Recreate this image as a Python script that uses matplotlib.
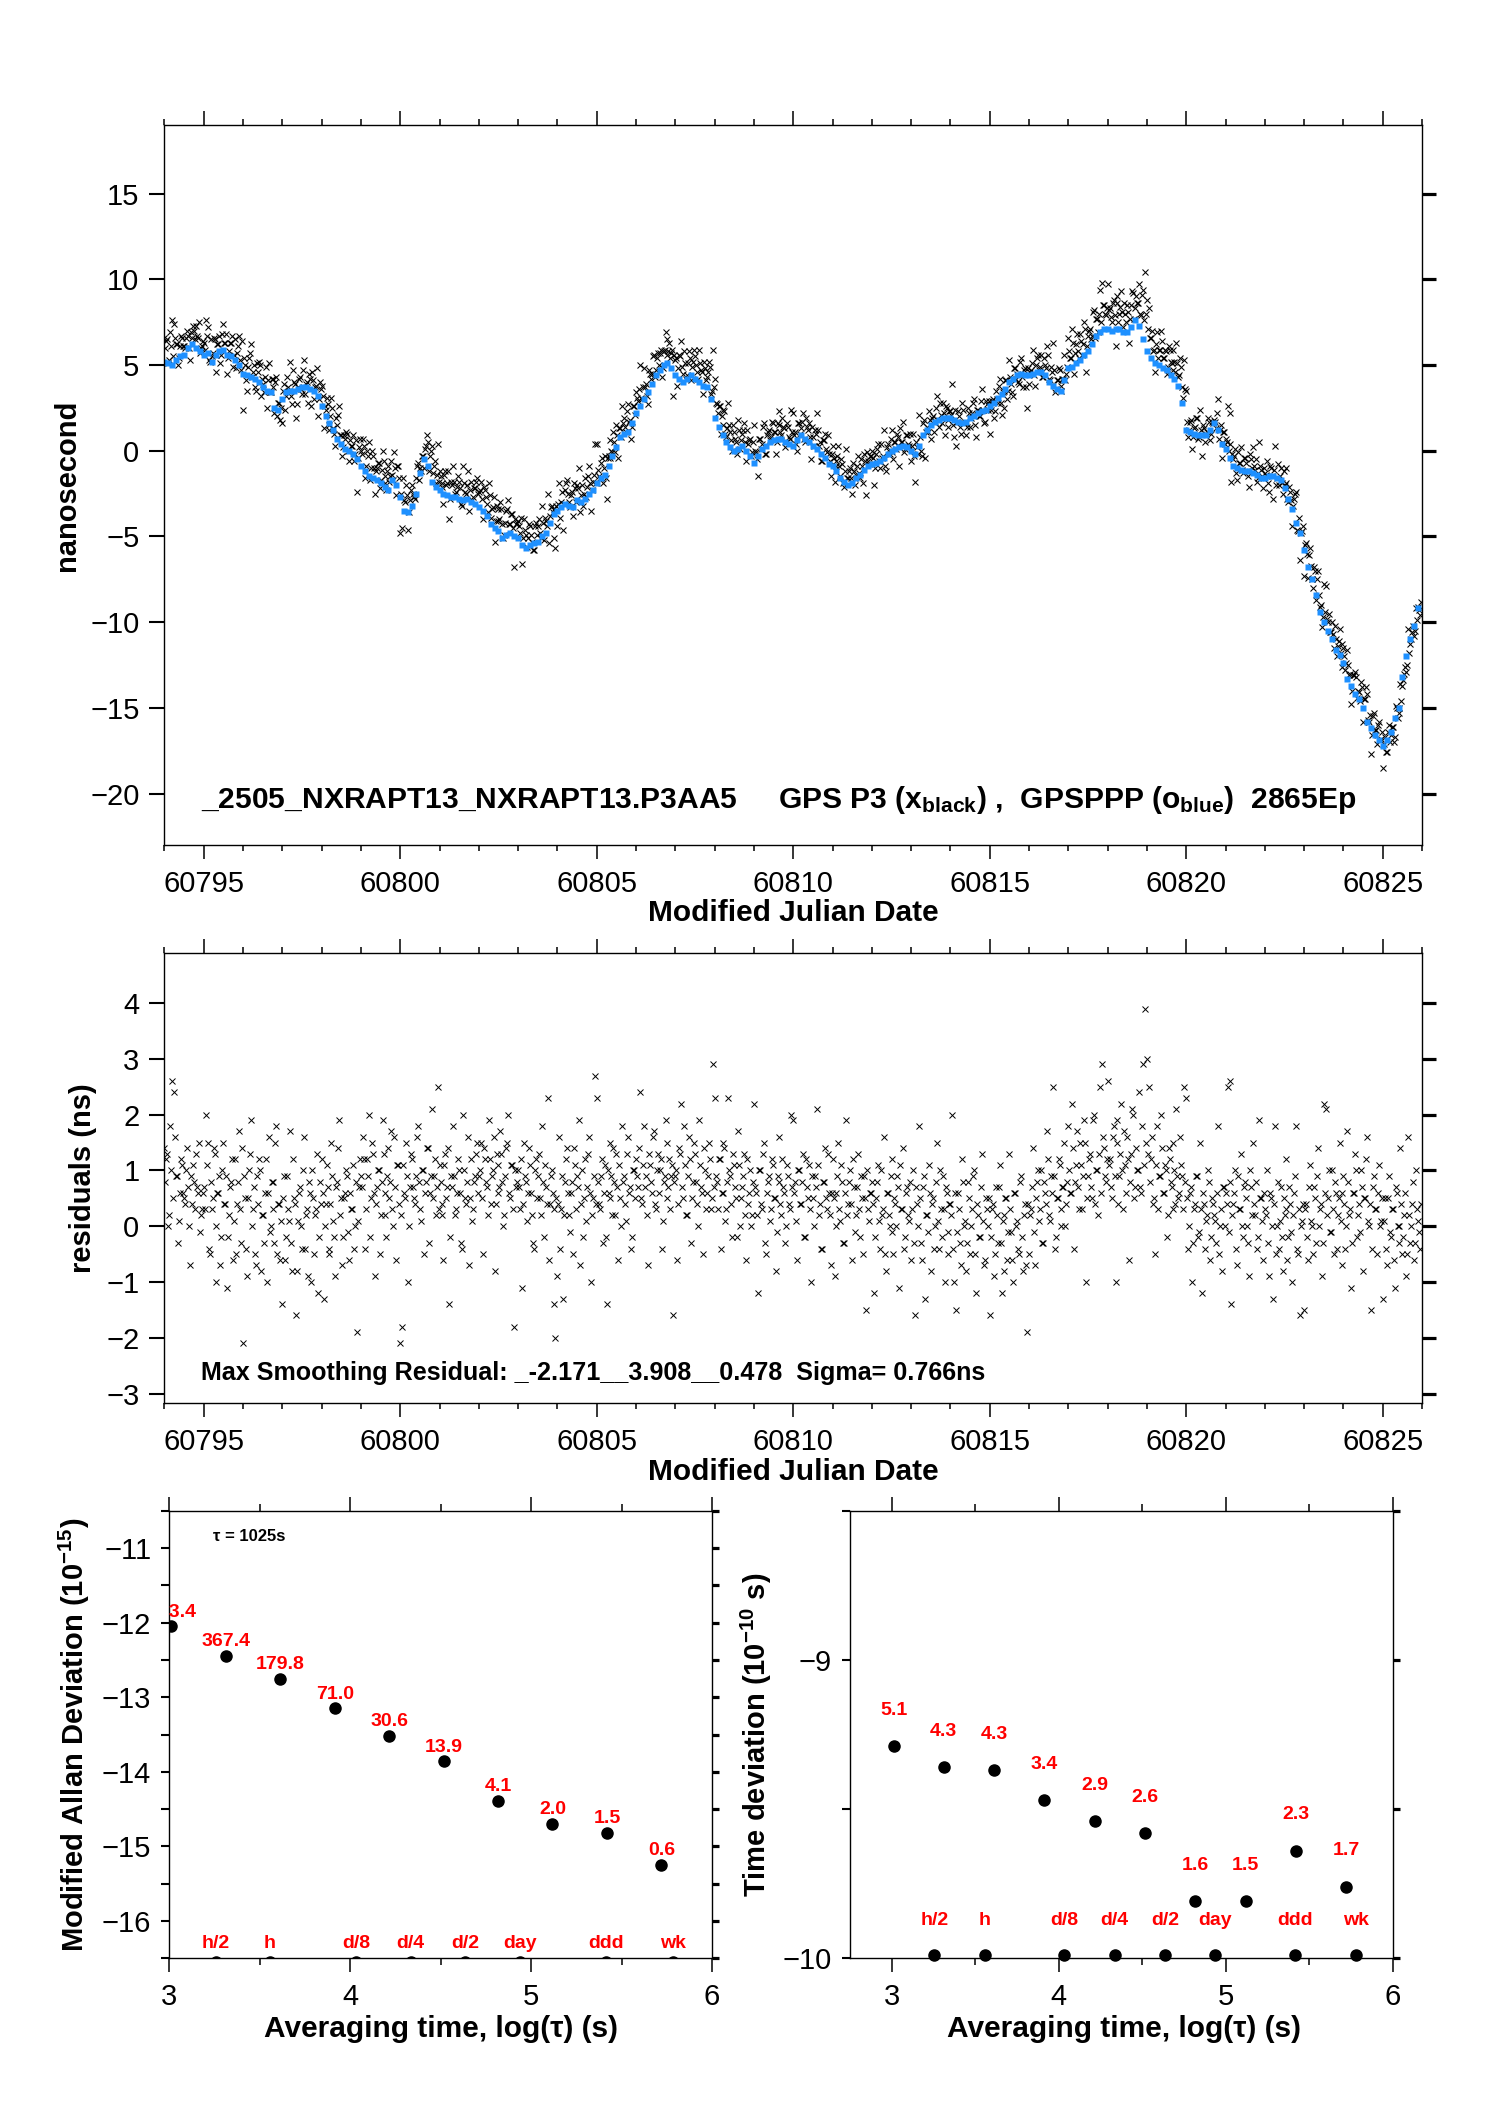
import numpy as np
import matplotlib
matplotlib.use("Agg")
import matplotlib.pyplot as plt
from matplotlib.ticker import MultipleLocator, FormatStrFormatter

plt.rcParams['font.family'] = ['Liberation Sans', 'DejaVu Sans']
plt.rcParams['mathtext.fontset'] = 'custom'
plt.rcParams['mathtext.rm'] = 'Liberation Sans'
plt.rcParams['mathtext.bf'] = 'Liberation Sans:bold'
plt.rcParams['mathtext.it'] = 'Liberation Sans:italic'

# time grid of the series (MJD)
mjd_start = 60794.0
ppp_step = 0.1
res_step = 0.05
res_offset = 0.025   # second residual set sits between the first one

# GPSPPP (blue), ns, one value every 0.1 day
ppp_ns = [
    5.2, 5.1, 5.0, 5.3, 5.5, 5.6, 6.0, 6.2, 6.0, 5.8,
    5.6, 5.7, 5.2, 5.6, 5.8, 5.9, 5.6, 5.5, 5.3, 5.0,
    4.5, 4.4, 4.3, 4.2, 4.0, 3.7, 3.5, 3.4, 2.5, 2.4,
    3.0, 3.4, 3.5, 3.5, 3.6, 3.7, 3.7, 3.6, 3.5, 3.2,
    2.6, 2.0, 1.6, 1.2, 0.7, 0.4, 0.1, 0.0, -0.2, -0.5,
    -0.9, -1.2, -1.5, -1.6, -1.7, -1.9, -2.1, -2.3, -1.7, -2.0,
    -2.7, -3.5, -3.6, -3.2, -2.5, -1.3, -0.5, -0.9, -1.8, -2.1,
    -2.3, -2.5, -2.6, -2.7, -2.7, -2.8, -2.9, -2.8, -3.0, -3.1,
    -3.3, -3.5, -3.8, -4.3, -4.5, -4.7, -5.1, -4.9, -4.8, -5.0,
    -5.1, -5.5, -5.7, -5.5, -5.4, -5.3, -5.0, -4.8, -4.2, -3.7,
    -3.5, -3.3, -3.1, -3.2, -3.3, -2.9, -3.0, -2.8, -2.5, -2.3,
    -1.9, -1.6, -1.4, -0.9, -0.3, 0.2, 0.8, 1.0, 1.1, 1.6,
    2.2, 2.6, 3.0, 3.4, 3.9, 4.4, 4.7, 5.0, 5.1, 4.8,
    4.4, 4.2, 4.0, 4.2, 4.4, 4.2, 4.0, 3.8, 3.7, 3.0,
    1.9, 1.4, 0.9, 0.5, 0.2, 0.0, 0.1, 0.3, 0.0, -0.3,
    -0.7, -0.3, 0.1, 0.3, 0.5, 0.6, 0.7, 0.7, 0.5, 0.4,
    0.3, 0.6, 0.9, 0.7, 0.5, 0.3, 0.1, -0.2, -0.4, -0.8,
    -0.9, -1.2, -1.6, -1.8, -2.0, -1.9, -1.6, -1.4, -1.1, -0.9,
    -0.8, -0.7, -0.6, -0.4, -0.2, 0.0, 0.1, 0.2, 0.3, 0.2,
    0.0, -0.2, 0.3, 0.9, 1.2, 1.5, 1.7, 1.8, 1.9, 1.9,
    1.9, 1.8, 1.7, 1.6, 1.7, 1.9, 2.0, 2.2, 2.3, 2.4,
    2.6, 2.8, 3.1, 3.3, 3.6, 4.0, 4.2, 4.4, 4.5, 4.4,
    4.4, 4.5, 4.6, 4.6, 4.4, 4.0, 3.8, 3.6, 3.5, 4.1,
    4.8, 4.9, 5.1, 5.3, 5.6, 5.8, 6.2, 6.7, 6.9, 7.1,
    7.1, 7.0, 7.1, 7.1, 6.9, 6.9, 7.2, 7.6, 7.3, 6.5,
    5.8, 5.4, 5.1, 5.0, 4.8, 4.7, 4.4, 4.2, 3.8, 2.8,
    1.2, 1.1, 1.0, 0.9, 0.9, 0.9, 1.2, 1.6, 1.2, 0.4,
    0.1, -0.4, -0.9, -1.0, -1.1, -1.2, -1.2, -1.3, -1.4, -1.6,
    -1.6, -1.5, -1.5, -1.6, -1.7, -2.2, -2.8, -3.4, -4.2, -4.8,
    -5.8, -6.8, -7.5, -8.4, -9.4, -10.0, -10.5, -11.0, -11.6, -11.9,
    -12.4, -13.3, -13.7, -14.2, -14.5, -15.0, -15.8, -16.2, -16.6, -16.9,
    -17.2, -16.9, -16.4, -15.6, -15.0, -13.2, -12.0, -11.0, -10.2, -9.2,
]

# P3 minus smoothing, ns, one value every 0.05 day
residual_ns = [
    1.4, 1.2, 0.0, 1.8, 2.6, 2.4, 0.9, -0.3, 0.6, 1.1,
    0.5, 1.0, 0.7, -0.7, 0.4, 0.8, 1.3, 0.6, -0.1, 0.3,
    0.7, 2.0, 1.5, -0.5, 0.3, 1.4, -1.0, 0.6, 0.9, -0.2,
    1.5, 0.4, -1.1, 0.2, 0.8, -0.6, 1.2, 0.4, 1.7, -0.3,
    -2.1, 0.5, -0.9, 1.0, 1.9, 0.3, -0.5, 0.9, 1.2, -0.8,
    0.2, 0.6, -1.0, 1.6, 0.0, 0.8, -0.3, 1.8, 0.4, -0.6,
    -1.4, 0.9, -0.2, 0.3, 1.7, -0.8, 0.5, -1.6, 0.1, 0.7,
    -0.4, 1.6, 0.2, -0.9, 0.6, 1.0, -0.5, 0.3, -1.2, 0.8,
    1.2, -1.3, 0.4, 0.7, -0.4, 1.5, 0.1, -0.9, 0.8, 1.9,
    0.5, -0.2, 0.6, 0.9, -0.6, 0.3, 1.1, 0.0, -1.9, 0.7,
    0.9, 1.6, -0.4, 1.2, 2.0, 0.5, 1.3, -0.9, 0.7, 1.0,
    0.2, 1.9, 0.6, -0.2, 1.4, 0.8, 0.3, 1.6, -0.6, 1.1,
    -2.1, -1.8, 0.6, 1.5, -1.0, 0.7, 1.2, 0.5, 0.9, 1.8,
    0.3, 1.0, -0.5, 0.8, 1.4, 0.6, 2.1, 0.9, 0.2, 2.5,
    1.1, 0.4, -0.6, 1.3, 0.7, -1.4, 0.9, 1.8, 0.2, 0.6,
    1.0, -0.3, 2.0, 0.5, 0.8, -0.7, 1.2, 0.3, 0.9, 1.5,
    0.9, 1.5, -0.5, 1.2, 0.7, 1.9, 0.4, 1.0, -0.8, 1.3,
    0.6, 1.7, 0.8, 0.2, 1.4, 2.0, 0.5, 1.1, -1.8, 0.7,
    1.0, 0.3, -1.1, 1.5, 0.8, 0.6, 1.1, 0.2, -0.4, 1.2,
    0.9, 0.5, 1.8, -0.2, 0.7, 2.3, 0.4, 1.0, -1.4, -2.0,
    -0.9, 1.6, 0.3, -1.3, 0.8, 1.4, 0.2, 0.6, -0.5, 1.1,
    0.9, 1.9, 0.4, -0.2, 1.2, 0.7, 1.6, -1.0, 0.5, 2.7,
    2.3, 0.4, 0.9, -0.3, 1.1, -1.4, 0.6, 1.5, 0.2, 0.8,
    1.3, -0.6, 0.5, 1.8, 0.9, 0.1, 1.6, 0.7, -0.2, 1.0,
    1.2, 0.7, 2.4, 0.4, 1.8, 0.9, -0.7, 1.1, 0.6, 1.7,
    0.3, 1.3, 1.0, -0.4, 0.8, 1.9, 0.5, 1.2, 0.9, -1.6,
    0.9, -0.6, 1.4, 2.2, 0.5, 1.1, 0.2, 1.6, -0.3, 0.8,
    1.3, 0.4, 1.9, 0.7, -0.5, 1.0, 0.6, 1.5, 0.3, 2.9,
    2.3, 0.8, 1.2, -0.4, 0.6, 1.4, 0.3, 2.3, 0.9, -0.2,
    1.1, 0.5, 1.7, 0.0, 0.7, 1.3, -0.6, 0.4, 1.0, 0.2,
    2.2, 0.6, -1.2, 1.0, 0.3, 1.5, -0.5, 0.8, 0.1, 1.2,
    0.5, -0.8, 0.9, 1.6, 0.2, 0.7, -0.3, 1.1, 0.4, 2.0,
    1.9, 0.8, -0.6, 1.0, 0.4, 1.3, -0.2, 0.7, 1.1, -1.0,
    0.5, 0.9, 2.1, 0.2, -0.4, 0.8, 1.4, 0.3, 0.6, -0.7,
    1.2, -0.9, 0.6, 1.5, 0.1, 0.8, -0.3, 1.9, 0.4, 1.0,
    -0.6, 0.7, 0.2, 1.3, -0.2, 0.5, 0.9, -1.5, 0.3, 0.6,
    0.8, -1.2, 0.5, 1.1, -0.4, 0.2, 1.6, -0.8, 0.6, 0.0,
    1.2, -0.5, 0.4, 0.9, -1.1, 0.3, 1.4, -0.2, 0.7, 0.1,
    -0.6, 1.0, -1.6, 0.4, 1.8, -0.3, 0.7, -1.3, 0.2, 1.1,
    -0.8, 0.5, 0.0, 1.5, -0.4, 0.3, 0.9, -1.0, 0.6, -0.1,
    0.4, 2.0, -1.0, -1.5, 0.6, -0.3, 1.2, 0.0, -0.8, 0.8,
    -0.5, 0.3, 1.0, -1.2, 0.2, -0.2, 1.3, -0.7, 0.5, 0.0,
    -1.6, 0.3, -0.9, 0.7, -0.3, 1.1, -1.2, 0.2, 0.5, -0.6,
    1.3, -0.1, -1.0, 0.6, 0.1, -0.5, 0.9, -0.8, 0.4, -1.9,
    -0.5, 0.3, 1.4, -0.7, 0.8, 0.1, 1.0, -0.3, 0.6, 1.7,
    0.2, 0.9, 2.5, -0.4, 0.5, 1.2, 0.0, 0.7, 1.5, 0.4,
    1.8, 0.6, 2.2, -0.4, 1.1, 0.7, 1.5, 0.3, 1.9, -1.0,
    0.9, 1.3, 0.5, 2.0, 1.0, 0.2, 2.5, 2.9, 1.4, 0.8,
    2.6, 1.2, 0.5, 1.8, -1.0, 1.5, 0.9, 2.2, 0.3, 1.1,
    1.6, -0.6, 1.3, 2.0, 0.7, 1.0, 2.4, 0.6, 2.9, 3.9,
    3.0, 2.5, 1.2, 0.4, -0.5, 1.8, 0.9, 2.0, 0.6, 1.1,
    -0.2, 1.4, 0.8, 0.3, 1.0, 2.1, 0.5, 1.6, 0.9, 2.5,
    2.3, -0.4, 0.6, -1.0, 0.3, 0.9, -0.2, 1.5, -1.2, 0.4,
    0.1, 1.0, -0.6, 0.5, 0.2, -0.3, 1.8, 0.0, -0.8, 0.7,
    0.6, 2.5, 2.6, -1.4, 0.4, 1.0, -0.7, 0.3, 1.3, -0.2,
    0.8, 0.0, -0.9, 0.7, 1.5, 0.2, -0.4, 1.9, 0.5, -0.6,
    0.3, 1.0, -0.9, 0.5, -1.3, 1.8, 0.0, -0.4, 0.7, -0.8,
    0.2, 1.2, -0.2, 0.4, -1.0, 0.6, 1.8, -0.5, -1.6, 0.1,
    -1.5, 0.4, -0.6, 1.1, 0.0, 0.7, -0.3, 1.4, 0.3, -0.9,
    2.2, 2.1, 0.5, -0.1, 1.0, -0.5, 0.6, 0.2, 1.5, -0.7,
    0.9, -0.4, 1.7, 0.2, -1.1, 0.6, 1.3, -0.2, 0.4, 1.0,
    -0.8, 0.5, 1.6, 0.0, -1.5, 0.7, 0.3, -0.5, 1.1, 0.1,
    -1.3, 0.5, -0.7, 0.9, -0.2, 0.3, -1.1, 0.6, 0.0, 1.4,
    -0.5, 0.2, -0.9, 1.6, -0.3, 0.4, -0.6, 1.0, 0.1, -0.4,
]

# P3 minus smoothing, ns, the epochs in between (0.05 day apart, shifted 0.025)
residual_mid_ns = [
    0.8, 1.3, 0.2, 1.0, 0.5, 1.6, 0.9, 0.1, 1.2, 0.6,
    0.4, 1.4, 0.0, 0.9, 1.1, 0.3, 0.7, 1.5, 0.2, 0.6,
    0.3, 1.1, -0.4, 0.8, 0.5, 1.3, 0.0, 0.6, -0.7, 1.0,
    0.4, 0.9, -0.2, 0.7, 1.2, 0.1, -0.5, 0.8, 0.3, 1.4,
    0.9, -0.4, 0.5, 1.3, 0.0, 0.7, -0.7, 0.4, 1.0, 0.2,
    -0.3, 1.2, 0.6, -0.1, 0.8, 0.3, 1.5, -0.5, 0.4, 0.1,
    0.5, -0.6, 0.9, 0.1, -0.3, 1.2, 0.4, -0.8, 0.6, 0.0,
    1.0, -0.4, 0.3, 0.8, -1.0, 0.5, 0.2, 1.3, -0.2, 0.4,
    0.6, 0.0, 1.1, -0.5, 0.4, 0.9, -0.2, 0.7, 1.4, 0.2,
    -0.7, 0.5, 1.0, -0.1, 0.6, 0.3, -0.4, 0.8, 0.1, 1.2,
    0.7, 1.2, 0.3, 0.9, -0.2, 1.5, 0.6, 0.4, 1.0, -0.5,
    0.8, 1.3, 0.2, 0.9, 0.5, 1.7, 0.0, 0.7, 1.1, 0.4,
    0.2, 1.1, 0.5, 0.9, 0.0, 1.3, 0.7, 0.4, 1.6, 0.8,
    0.1, 1.0, 0.6, 1.4, -0.3, 0.9, 0.5, 1.2, 0.7, 0.3,
    0.8, 0.2, 1.1, 0.5, 1.4, -0.2, 0.7, 0.9, 0.3, 1.2,
    0.6, -0.4, 1.0, 0.4, 1.6, 0.5, 0.1, 0.8, 1.3, 0.6,
    1.0, 0.5, 1.4, 0.8, 0.2, 1.2, 0.9, 1.6, 0.4, 1.1,
    0.7, 1.3, 0.0, 0.9, 1.5, 0.6, 1.1, 0.3, 1.0, 0.8,
    0.7, 1.2, 0.4, 0.9, 0.1, 1.4, 0.6, -0.3, 1.0, 0.5,
    1.3, 0.2, 0.8, 1.1, 0.4, -0.6, 0.9, 0.6, 0.3, 0.5,
    0.4, -0.4, 0.9, 0.2, 1.2, 0.6, -0.1, 0.8, 1.4, 0.3,
    0.7, -0.7, 1.0, 0.5, 0.1, 1.3, 0.6, 0.2, 0.9, 0.4,
    0.8, 0.3, 1.2, 0.6, -0.2, 1.0, 0.5, 0.9, 1.4, 0.2,
    0.7, 1.1, 0.0, 0.8, 0.4, 1.3, 0.6, -0.4, 1.0, 0.5,
    0.9, 1.4, 0.5, 1.1, 0.7, 0.2, 1.3, 0.8, 1.6, 0.4,
    1.0, 0.6, 1.2, 0.1, 0.9, 1.5, 0.7, 0.3, 1.1, 0.8,
    1.0, 0.4, 1.3, 0.7, 1.8, 0.2, 0.9, 1.2, 0.5, 1.5,
    0.8, 0.0, 1.1, 0.6, 1.4, 0.3, 0.9, 1.2, 0.5, 0.7,
    0.9, 0.3, 1.2, 0.6, 1.5, 0.1, 0.8, 1.0, 0.4, 1.3,
    0.7, -0.2, 1.1, 0.5, 0.9, 0.2, 1.2, 0.6, 0.0, 0.8,
    0.7, 0.2, 1.0, 0.4, 1.3, -0.3, 0.6, 0.9, 0.3, 1.1,
    0.5, -0.1, 0.8, 0.4, 1.2, 0.6, 0.0, 0.9, 0.3, 0.7,
    0.6, 0.1, 1.0, 0.4, 0.8, -0.2, 1.2, 0.5, 0.3, 0.9,
    0.0, 0.7, 1.1, 0.4, -0.4, 0.8, 0.5, 1.3, 0.2, 0.6,
    0.5, 0.0, 0.9, 0.3, 1.1, -0.3, 0.6, 0.2, 0.8, 0.4,
    1.2, -0.1, 0.7, 0.3, 0.9, -0.5, 0.5, 1.0, 0.1, 0.6,
    0.4, -0.2, 0.8, 0.1, 1.0, 0.3, -0.5, 0.6, 0.2, 0.9,
    -0.1, 0.5, 0.0, 0.7, 1.1, 0.3, -0.4, 0.6, 0.2, 0.8,
    0.3, -0.3, 0.7, 0.0, 0.5, -0.6, 0.9, 0.2, -0.1, 0.6,
    0.4, -0.4, 0.8, 0.1, 1.0, -0.2, 0.3, 0.7, -0.5, 0.4,
    0.2, -0.4, 0.6, -0.1, 0.3, -0.7, 0.8, 0.1, -0.3, 0.5,
    0.0, 0.9, -0.5, 0.4, -0.2, 0.7, 0.1, -0.6, 0.3, 0.5,
    -0.2, 0.4, -0.5, 0.2, 0.7, -0.3, 0.1, -0.8, 0.5, -0.1,
    0.3, -0.6, 0.6, 0.0, -0.4, 0.8, -0.2, 0.2, -0.7, 0.4,
    0.2, 0.7, -0.1, 0.5, 1.0, 0.3, -0.3, 0.8, 0.4, 1.2,
    0.1, 0.6, 0.9, -0.2, 0.5, 1.1, 0.3, 0.7, 0.0, 0.8,
    1.0, 0.6, 1.4, 0.8, 1.7, 0.3, 1.1, 0.9, 1.5, 0.5,
    1.2, 0.7, 1.9, 0.4, 1.0, 1.3, 0.6, 1.6, 0.9, 1.2,
    1.1, 0.7, 1.6, 0.9, 1.9, 0.4, 1.3, 1.0, 1.7, 0.6,
    1.2, 0.8, 2.1, 0.5, 1.4, 1.0, 0.7, 1.8, 1.1, 1.5,
    1.3, 0.8, 1.6, 0.5, 1.1, 0.3, 0.9, 1.4, 0.6, 1.0,
    0.2, 1.2, 0.7, 1.5, 0.4, 0.9, 0.6, 1.1, 0.3, 0.8,
    0.5, 0.0, 0.7, -0.3, 0.4, 0.9, -0.1, 0.3, 0.6, -0.4,
    0.2, 0.8, -0.2, 0.4, 0.1, 0.6, -0.5, 0.3, 0.7, 0.0,
    0.4, -0.1, 0.8, 0.2, 0.6, -0.4, 0.9, 0.3, 0.0, 0.7,
    0.5, -0.3, 1.0, 0.2, 0.4, 0.8, -0.2, 0.5, 0.1, 0.6,
    0.2, -0.3, 0.6, 0.0, 0.4, -0.5, 0.8, 0.1, -0.2, 0.5,
    0.3, -0.6, 0.7, -0.1, 0.2, 0.9, -0.4, 0.3, 0.0, 0.4,
    0.3, -0.2, 0.7, 0.1, -0.5, 0.5, 0.9, 0.0, 0.4, -0.3,
    0.6, 0.2, 1.0, -0.1, 0.3, 0.8, -0.4, 0.5, 0.1, 0.6,
    0.4, 0.0, 0.8, 0.3, -0.3, 0.6, 1.0, 0.2, -0.1, 0.7,
    0.5, 1.2, 0.1, 0.4, -0.4, 0.9, 0.3, 0.6, 0.0, 0.5,
    0.1, -0.4, 0.5, -0.1, 0.3, -0.6, 0.7, 0.0, -0.3, 0.4,
    -0.2, 0.6, -0.5, 0.2, 0.0, 0.8, -0.3, 0.3, -0.1, 0.4,
]

# stability analysis, log10 of averaging time
tau_log = [3.011, 3.312, 3.613, 3.914, 4.215, 4.516, 4.817, 5.118, 5.419, 5.720]
mdev_log = [-12.05, -12.44, -12.75, -13.15, -13.52, -13.86, -14.39, -14.70, -14.82, -15.25]
mdev_text = ["753.4", "367.4", "179.8", "71.0", "30.6", "13.9", "4.1", "2.0", "1.5", "0.6"]
tdev_log = [-9.29, -9.36, -9.37, -9.47, -9.54, -9.58, -9.81, -9.81, -9.64, -9.76]
tdev_text = ["5.1", "4.3", "4.3", "3.4", "2.9", "2.6", "1.6", "1.5", "2.3", "1.7"]
mark_names = ["h/2", "h", "d/8", "d/4", "d/2", "day", "ddd", "wk"]
mark_seconds = [1800, 3600, 10800, 21600, 43200, 86400, 259200, 604800]

t_ppp = mjd_start + ppp_step * np.arange(len(ppp_ns))
t_res = mjd_start + res_step * np.arange(len(residual_ns))
t_mid = mjd_start + res_offset + res_step * np.arange(len(residual_mid_ns))
ppp_hold = np.repeat(ppp_ns, 2)
t_all = np.concatenate([t_res, t_mid])
res_all = np.concatenate([residual_ns, residual_mid_ns])
p3_ns = np.concatenate([ppp_hold[:len(residual_ns)] + np.array(residual_ns),
                        ppp_hold[:len(residual_mid_ns)] + np.array(residual_mid_ns)])
mark_log = np.log10(mark_seconds)

fig = plt.figure(figsize=(14.88, 21.05), dpi=100)
ax1 = fig.add_axes([0.1105, 0.5986, 0.8452, 0.3420])
ax2 = fig.add_axes([0.1105, 0.3335, 0.8452, 0.2138])
ax3 = fig.add_axes([0.1138, 0.0698, 0.3647, 0.2124])
ax4 = fig.add_axes([0.5712, 0.0698, 0.3649, 0.2124])

def frame(ax):
    for sp in ax.spines.values():
        sp.set_linewidth(1.0)
    ax.tick_params(which='both', direction='out', top=True, right=True,
                   labelsize=21, width=1.1)

def thick_right(ax, size):
    for t in ax.yaxis.get_major_ticks() + ax.yaxis.get_minor_ticks():
        t.tick2line.set_markeredgewidth(2.3)
        t.tick2line.set_markersize(size)

# ---- top: time series
ax1.plot(t_all, p3_ns, 'x', color='black', ms=4.5, mew=0.75)
ax1.plot(t_ppp, ppp_ns, 's', color='#1E90FF', ms=3.8, mec='none')
ax1.set_xlim(60794, 60826)
ax1.set_ylim(-23, 19)
frame(ax1)
ax1.xaxis.set_major_locator(MultipleLocator(5))
ax1.xaxis.set_minor_locator(MultipleLocator(1))
ax1.xaxis.set_major_formatter(FormatStrFormatter('%d'))
ax1.yaxis.set_major_locator(MultipleLocator(5))
ax1.tick_params(axis='x', which='major', length=10, pad=8)
ax1.tick_params(axis='x', which='minor', length=4.5)
ax1.tick_params(axis='y', which='major', length=11, pad=7, width=1.5)
thick_right(ax1, 10)
ax1.set_xlabel('Modified Julian Date', fontsize=21.5, fontweight='bold')
ax1.xaxis.label.set_va('center')
ax1.xaxis.set_label_coords(0.5, -0.094)
ax1.set_ylabel('nanosecond', fontsize=21, fontweight='bold')
ax1.yaxis.label.set_va('center')
ax1.yaxis.set_label_coords(-0.0775, 0.5)
ax1.text(60794.94, -20.37,
         r'_2505_NXRAPT13_NXRAPT13.P3AA5     GPS P3 (x$_{\mathbf{black}}$) ,  '
         r'GPSPPP (o$_{\mathbf{blue}}$)  2865Ep',
         fontsize=21.6, fontweight='bold', ha='left', va='center')

# ---- middle: residuals
ax2.plot(t_all, res_all, 'x', color='black', ms=4.5, mew=0.7)
ax2.set_xlim(60794, 60826)
ax2.set_ylim(-3.17, 4.9)
frame(ax2)
ax2.xaxis.set_major_locator(MultipleLocator(5))
ax2.xaxis.set_minor_locator(MultipleLocator(1))
ax2.xaxis.set_major_formatter(FormatStrFormatter('%d'))
ax2.yaxis.set_major_locator(MultipleLocator(1))
ax2.tick_params(axis='x', which='major', length=10, pad=8)
ax2.tick_params(axis='x', which='minor', length=4.5)
ax2.tick_params(axis='y', which='major', length=11, pad=7, width=1.5)
thick_right(ax2, 10)
ax2.set_xlabel('Modified Julian Date', fontsize=21.5, fontweight='bold')
ax2.xaxis.label.set_va('center')
ax2.xaxis.set_label_coords(0.5, -0.153)
ax2.set_ylabel('residuals (ns)', fontsize=21, fontweight='bold')
ax2.yaxis.label.set_va('center')
ax2.yaxis.set_label_coords(-0.0647, 0.5)
ax2.text(60794.94, -2.64,
         'Max Smoothing Residual: _-2.171__3.908__0.478  Sigma= 0.766ns',
         fontsize=18.1, fontweight='bold', ha='left', va='center')

# ---- bottom left: modified Allan deviation
ax3.plot(tau_log, mdev_log, 'o', color='black', ms=8)
for x, y, s in zip(tau_log, mdev_log, mdev_text):
    ax3.text(x, y + 0.19, s, color='red', fontsize=14, fontweight='bold',
             ha='center', va='center', clip_on=True)
ax3.plot(mark_log, np.full(len(mark_log), -16.55), 'o', color='black', ms=8)
for x, s in zip(mark_log, mark_names):
    ax3.text(x, -16.31, s, color='red', fontsize=14, fontweight='bold',
             ha='center', va='center')
ax3.text(3.24, -10.84, 'τ = 1025s', fontsize=12, fontweight='bold',
         ha='left', va='center')
ax3.set_xlim(3, 6)
ax3.set_ylim(-16.5, -10.5)

# ---- bottom right: time deviation
ax4.plot(tau_log, tdev_log, 'o', color='black', ms=8)
for x, y, s in zip(tau_log, tdev_log, tdev_text):
    ax4.text(x, y + 0.12, s, color='red', fontsize=14, fontweight='bold',
             ha='center', va='center')
ax4.plot(mark_log, np.full(len(mark_log), -9.989), 'o', color='black', ms=8,
         clip_on=False)
for x, s in zip(mark_log, mark_names):
    ax4.text(x, -9.874, s, color='red', fontsize=14, fontweight='bold',
             ha='center', va='center')
ax4.set_xlim(2.75, 6)
ax4.set_ylim(-10, -8.5)

for ax in (ax3, ax4):
    frame(ax)
    ax.xaxis.set_major_locator(MultipleLocator(1))
    ax.xaxis.set_minor_locator(MultipleLocator(0.5))
    ax.yaxis.set_major_locator(MultipleLocator(1))
    ax.yaxis.set_minor_locator(MultipleLocator(0.5))
    ax.tick_params(axis='x', which='major', length=10, pad=8)
    ax.tick_params(axis='x', which='minor', length=5)
    ax.tick_params(axis='y', which='both', length=6, pad=7, width=1.5)
    thick_right(ax, 5)
    ax.set_xlabel('Averaging time, log(τ) (s)', fontsize=21.5, fontweight='bold')
    ax.xaxis.label.set_va('center')

ax3.xaxis.set_label_coords(0.5, -0.159)
ax4.xaxis.set_label_coords(0.505, -0.159)
ax3.set_ylabel(r'Modified Allan Deviation (10$^{\mathbf{-15}}$)', fontsize=21,
               fontweight='bold')
ax3.yaxis.label.set_va('center')
ax3.yaxis.set_label_coords(-0.1756, 0.5)
ax4.set_ylabel(r'Time deviation (10$^{\mathbf{-10}}$ s)', fontsize=21,
               fontweight='bold')
ax4.yaxis.label.set_va('center')
ax4.yaxis.set_label_coords(-0.173, 0.5)

fig.savefig('out.png', dpi=100)
